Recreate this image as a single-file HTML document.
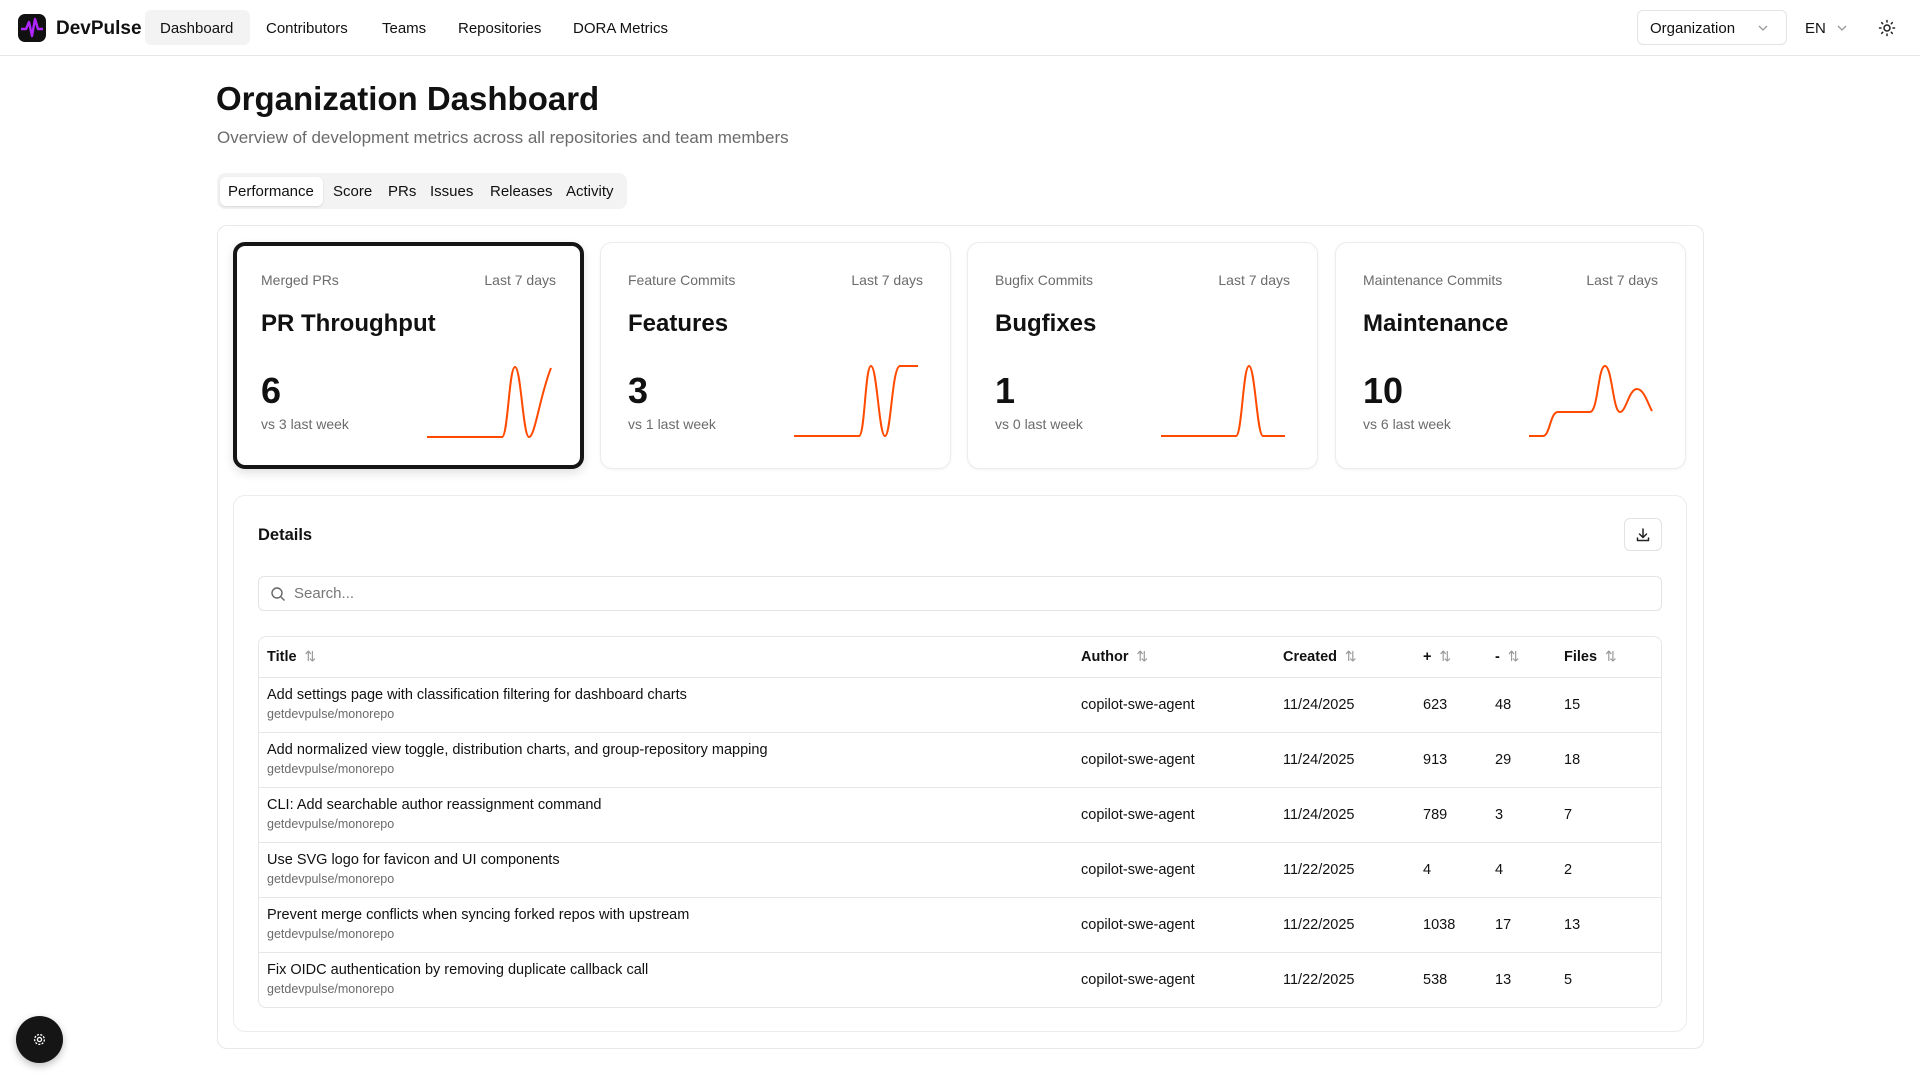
<!DOCTYPE html>
<html><head><meta charset="utf-8"><style>
*{box-sizing:border-box;margin:0;padding:0}
body{width:1920px;height:1080px;overflow:hidden;background:#fff;font-family:"Liberation Sans",sans-serif;color:#111;position:relative}
.a{position:absolute;white-space:nowrap}
.nav{position:absolute;left:0;top:0;width:1920px;height:56px;border-bottom:1px solid #e6e6e6}
.ni{font-size:15px;color:#111;top:20px}
.card{position:absolute;top:242px;width:351px;height:227px;border:1px solid #ececec;border-radius:12px;background:#fff;box-shadow:0 1px 3px rgba(0,0,0,.05)}
.card.sel{border:4px solid #151515;box-shadow:0 4px 10px rgba(0,0,0,.12)}
.lbl{font-size:14px;color:#6b6b6b;top:29px}
.ttl{font-size:24px;font-weight:bold;top:67px;left:27px}
.num{font-size:36px;font-weight:bold;top:127px;left:27px}
.vs{font-size:14px;color:#6b6b6b;top:173px;left:27px}
.sp{position:absolute;left:192px;top:121px}
.th{font-size:14.5px;font-weight:bold;top:648px;color:#111}
.row{position:absolute;left:259px;width:1402px;height:55px;border-top:1px solid #e6e6e6}
.c{font-size:14.5px;top:19px;color:#111}
.t1{font-size:14.5px;top:9px;left:8px}
.t2{font-size:12.5px;color:#6b6b6b;top:29px;left:8px}
.ar{color:#9a9a9a;font-weight:normal;font-size:14px}
</style></head><body>
<div class="nav">
 <svg class="a" style="left:18px;top:14px" width="28" height="28" viewBox="0 0 28 28"><rect width="28" height="28" rx="7" fill="#111"/><path d="M3 15 L8 15 L11 8 L14 22 L17 5 L20 15 L25 15" stroke="#b026ff" stroke-width="2.4" fill="none" stroke-linejoin="round"/></svg>
 <div class="a" style="left:56px;top:18px;font-size:19px;font-weight:bold;color:#111">DevPulse</div>
 <div class="a" style="left:145px;top:10px;width:105px;height:35px;background:#f3f3f3;border-radius:6px"></div>
 <div class="a ni" style="left:160px">Dashboard</div>
 <div class="a ni" style="left:266px">Contributors</div>
 <div class="a ni" style="left:382px">Teams</div>
 <div class="a ni" style="left:458px">Repositories</div>
 <div class="a ni" style="left:573px">DORA Metrics</div>
 <div class="a" style="left:1637px;top:10px;width:150px;height:35px;border:1px solid #e3e3e3;border-radius:6px"></div>
 <div class="a ni" style="left:1650px">Organization</div>
 <svg class="a" style="left:1758px;top:24px" width="10" height="8"><path d="M1 2 L5 6 L9 2" stroke="#999" fill="none" stroke-width="1.3"/></svg>
 <div class="a ni" style="left:1805px">EN</div>
 <svg class="a" style="left:1837px;top:24px" width="10" height="8"><path d="M1 2 L5 6 L9 2" stroke="#999" fill="none" stroke-width="1.3"/></svg>
 <svg class="a" style="left:1878px;top:19px" width="18" height="18" viewBox="0 0 18 18"><circle cx="9" cy="9" r="3" stroke="#222" stroke-width="1.5" fill="none"/><g stroke="#222" stroke-width="1.5" stroke-linecap="round"><path d="M9 1.5v1.5M9 15v1.5M1.5 9H3M15 9h1.5M3.7 3.7l1 1M13.3 13.3l1 1M3.7 14.3l1-1M13.3 4.7l1-1"/></g></svg>
</div>

<div class="a" style="left:216px;top:80px;font-size:33px;font-weight:bold">Organization Dashboard</div>
<div class="a" style="left:217px;top:128px;font-size:17px;color:#6b6b6b">Overview of development metrics across all repositories and team members</div>

<div class="a" style="left:217px;top:173px;width:410px;height:36px;background:#f3f3f3;border-radius:8px"></div>
<div class="a" style="left:220px;top:177px;width:103px;height:29px;background:#fff;border-radius:6px;box-shadow:0 1px 2px rgba(0,0,0,.12)"></div>
<div class="a" style="left:228px;top:183px;font-size:15px">Performance</div>
<div class="a" style="left:333px;top:183px;font-size:15px">Score</div>
<div class="a" style="left:388px;top:183px;font-size:15px">PRs</div>
<div class="a" style="left:430px;top:183px;font-size:15px">Issues</div>
<div class="a" style="left:490px;top:183px;font-size:15px">Releases</div>
<div class="a" style="left:566px;top:183px;font-size:15px">Activity</div>

<div class="a" style="left:217px;top:225px;width:1487px;height:824px;border:1px solid #e8e8e8;border-radius:10px"></div>

<div class="card sel" style="left:233px">
 <div class="a lbl" style="left:24px;top:26px">Merged PRs</div><div class="a lbl" style="right:24px;top:26px">Last 7 days</div>
 <div class="a ttl" style="left:24px;top:64px">PR Throughput</div>
 <div class="a num" style="left:24px;top:124px">6</div><div class="a vs" style="left:24px;top:170px">vs 3 last week</div>
 <svg class="sp" style="left:189px;top:119px" width="130" height="76"><path d="M1 72 L76 72 C82 72 83 2 89 2 C95 2 97 72 103 72 C109 72 114 30 125 3" stroke="#ff4a00" stroke-width="2" fill="none"/></svg>
</div>
<div class="card" style="left:600px">
 <div class="a lbl" style="left:27px">Feature Commits</div><div class="a lbl" style="right:27px">Last 7 days</div>
 <div class="a ttl">Features</div>
 <div class="a num">3</div><div class="a vs">vs 1 last week</div>
 <svg class="sp" width="130" height="76"><path d="M1 72 L66 72 C72 72 72 2 78 2 C84 2 86 72 92 72 C98 72 99 2 107 2 L125 2" stroke="#ff4a00" stroke-width="2" fill="none"/></svg>
</div>
<div class="card" style="left:967px">
 <div class="a lbl" style="left:27px">Bugfix Commits</div><div class="a lbl" style="right:27px">Last 7 days</div>
 <div class="a ttl">Bugfixes</div>
 <div class="a num">1</div><div class="a vs">vs 0 last week</div>
 <svg class="sp" width="130" height="76"><path d="M1 72 L76 72 C82 72 83 2 89 2 C95 2 97 72 103 72 L125 72" stroke="#ff4a00" stroke-width="2" fill="none"/></svg>
</div>
<div class="card" style="left:1335px">
 <div class="a lbl" style="left:27px">Maintenance Commits</div><div class="a lbl" style="right:27px">Last 7 days</div>
 <div class="a ttl">Maintenance</div>
 <div class="a num">10</div><div class="a vs">vs 6 last week</div>
 <svg class="sp" width="130" height="76"><path d="M1 72 L15 72 C22 72 22 48 30 48 L62 48 C70 48 70 2 77 2 C84 2 85 48 92 48 C98 48 101 25 109 25 C116 25 120 40 124 47" stroke="#ff4a00" stroke-width="2" fill="none"/></svg>
</div>

<div class="a" style="left:233px;top:495px;width:1454px;height:537px;border:1px solid #ececec;border-radius:12px"></div>
<div class="a" style="left:258px;top:526px;font-size:16.5px;font-weight:bold">Details</div>
<div class="a" style="left:1624px;top:518px;width:38px;height:33px;border:1px solid #e3e3e3;border-radius:6px"></div>
<svg class="a" style="left:1635px;top:527px" width="16" height="16" viewBox="0 0 16 16"><path d="M8 2v8M4.5 7L8 10.5 11.5 7M2.5 11v2.5h11V11" stroke="#222" stroke-width="1.5" fill="none" stroke-linecap="round" stroke-linejoin="round"/></svg>
<div class="a" style="left:258px;top:576px;width:1404px;height:35px;border:1px solid #e3e3e3;border-radius:6px"></div>
<svg class="a" style="left:270px;top:586px" width="16" height="16" viewBox="0 0 16 16"><circle cx="7" cy="7" r="5" stroke="#666" stroke-width="1.4" fill="none"/><path d="M11 11l3.5 3.5" stroke="#666" stroke-width="1.4"/></svg>
<div class="a" style="left:294px;top:585px;font-size:15px;color:#777">Search...</div>

<div class="a" style="left:258px;top:636px;width:1404px;height:372px;border:1px solid #e6e6e6;border-radius:8px"></div>
<div class="a th" style="left:267px">Title <span class="ar">&nbsp;⇅</span></div>
<div class="a th" style="left:1081px">Author <span class="ar">&nbsp;⇅</span></div>
<div class="a th" style="left:1283px">Created <span class="ar">&nbsp;⇅</span></div>
<div class="a th" style="left:1423px">+ <span class="ar">&nbsp;⇅</span></div>
<div class="a th" style="left:1495px">- <span class="ar">&nbsp;⇅</span></div>
<div class="a th" style="left:1564px">Files <span class="ar">&nbsp;⇅</span></div>

<div class="row" style="top:677px"><div class="a t1">Add settings page with classification filtering for dashboard charts</div><div class="a t2">getdevpulse/monorepo</div><div class="a c" style="left:822px">copilot-swe-agent</div><div class="a c" style="left:1024px">11/24/2025</div><div class="a c" style="left:1164px">623</div><div class="a c" style="left:1236px">48</div><div class="a c" style="left:1305px">15</div></div>
<div class="row" style="top:732px"><div class="a t1">Add normalized view toggle, distribution charts, and group-repository mapping</div><div class="a t2">getdevpulse/monorepo</div><div class="a c" style="left:822px">copilot-swe-agent</div><div class="a c" style="left:1024px">11/24/2025</div><div class="a c" style="left:1164px">913</div><div class="a c" style="left:1236px">29</div><div class="a c" style="left:1305px">18</div></div>
<div class="row" style="top:787px"><div class="a t1">CLI: Add searchable author reassignment command</div><div class="a t2">getdevpulse/monorepo</div><div class="a c" style="left:822px">copilot-swe-agent</div><div class="a c" style="left:1024px">11/24/2025</div><div class="a c" style="left:1164px">789</div><div class="a c" style="left:1236px">3</div><div class="a c" style="left:1305px">7</div></div>
<div class="row" style="top:842px"><div class="a t1">Use SVG logo for favicon and UI components</div><div class="a t2">getdevpulse/monorepo</div><div class="a c" style="left:822px">copilot-swe-agent</div><div class="a c" style="left:1024px">11/22/2025</div><div class="a c" style="left:1164px">4</div><div class="a c" style="left:1236px">4</div><div class="a c" style="left:1305px">2</div></div>
<div class="row" style="top:897px"><div class="a t1">Prevent merge conflicts when syncing forked repos with upstream</div><div class="a t2">getdevpulse/monorepo</div><div class="a c" style="left:822px">copilot-swe-agent</div><div class="a c" style="left:1024px">11/22/2025</div><div class="a c" style="left:1164px">1038</div><div class="a c" style="left:1236px">17</div><div class="a c" style="left:1305px">13</div></div>
<div class="row" style="top:952px"><div class="a t1">Fix OIDC authentication by removing duplicate callback call</div><div class="a t2">getdevpulse/monorepo</div><div class="a c" style="left:822px">copilot-swe-agent</div><div class="a c" style="left:1024px">11/22/2025</div><div class="a c" style="left:1164px">538</div><div class="a c" style="left:1236px">13</div><div class="a c" style="left:1305px">5</div></div>

<div class="a" style="left:16px;top:1016px;width:47px;height:47px;border-radius:50%;background:#151515;box-shadow:0 3px 8px rgba(0,0,0,.25)"></div>
<svg class="a" style="left:32px;top:1032px" width="15" height="15" viewBox="0 0 16 16"><circle cx="8" cy="8" r="2.2" stroke="#fff" stroke-width="1.4" fill="none"/><circle cx="8" cy="8" r="5.2" stroke="#fff" stroke-width="1.4" fill="none" stroke-dasharray="2.2 1.4"/></svg>
</body></html>
